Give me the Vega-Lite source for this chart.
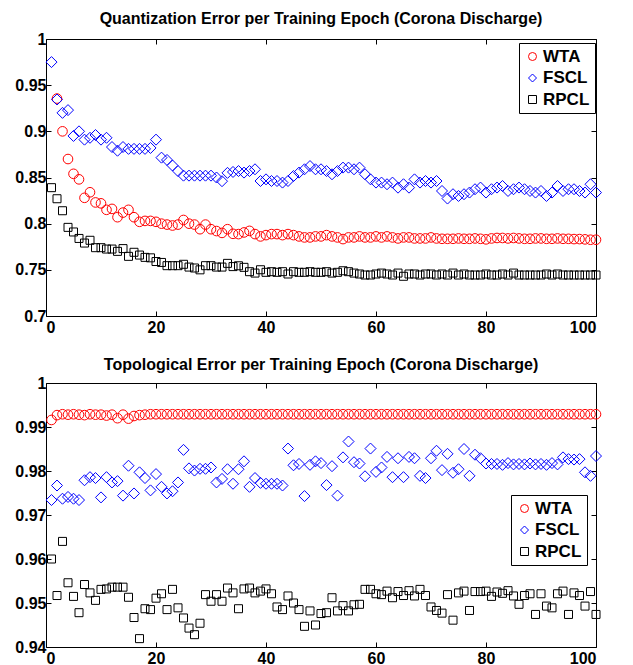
{
 "$schema": "https://vega.github.io/schema/vega-lite/v6.json",
 "autosize": {"type": "pad"},
 "padding": {"left": 14, "top": 11, "right": 10, "bottom": 5},
 "background": "white",
 "config": {
  "font": "Liberation Sans",
  "view": {"stroke": null},
  "axis": {"labelFont": "Liberation Sans", "labelFontSize": 16, "labelFontWeight": "bold", "labelColor": "black", "domainColor": "black", "tickColor": "black", "grid": false, "title": null, "tickSize": -5, "labelPadding": 5, "domainWidth": 1, "tickWidth": 1},
  "axisBottom": {"labelPadding": 8},
  "title": {"font": "Liberation Sans", "fontSize": 16, "fontWeight": "bold", "color": "black", "anchor": "middle", "offset": 4},
  "legend": {"orient": "none", "strokeColor": "black", "fillColor": "white", "padding": 5, "labelFont": "Liberation Sans", "labelFontSize": 17, "labelFontWeight": "bold", "labelColor": "black", "symbolSize": 64, "symbolStrokeWidth": 1, "labelOffset": 2, "rowPadding": 3.5, "symbolOffset": 0}
 },
 "datasets": {
  "quant": [
   {"epoch":2,"method":"WTA","value":0.9355},{"epoch":3,"method":"WTA","value":0.900},{"epoch":4,"method":"WTA","value":0.870},{"epoch":5,"method":"WTA","value":0.854},{"epoch":6,"method":"WTA","value":0.848},{"epoch":7,"method":"WTA","value":0.828},{"epoch":8,"method":"WTA","value":0.834},{"epoch":9,"method":"WTA","value":0.823},{"epoch":10,"method":"WTA","value":0.822},{"epoch":11,"method":"WTA","value":0.815},{"epoch":12,"method":"WTA","value":0.816},{"epoch":13,"method":"WTA","value":0.807},{"epoch":14,"method":"WTA","value":0.812},{"epoch":15,"method":"WTA","value":0.815},{"epoch":16,"method":"WTA","value":0.807},{"epoch":17,"method":"WTA","value":0.802},{"epoch":18,"method":"WTA","value":0.803},{"epoch":19,"method":"WTA","value":0.803},{"epoch":20,"method":"WTA","value":0.802},{"epoch":21,"method":"WTA","value":0.800},{"epoch":22,"method":"WTA","value":0.799},{"epoch":23,"method":"WTA","value":0.798},{"epoch":24,"method":"WTA","value":0.799},{"epoch":25,"method":"WTA","value":0.804},{"epoch":26,"method":"WTA","value":0.800},{"epoch":27,"method":"WTA","value":0.799},{"epoch":28,"method":"WTA","value":0.794},{"epoch":29,"method":"WTA","value":0.799},{"epoch":30,"method":"WTA","value":0.794},{"epoch":31,"method":"WTA","value":0.792},{"epoch":32,"method":"WTA","value":0.790},{"epoch":33,"method":"WTA","value":0.794},{"epoch":34,"method":"WTA","value":0.789},{"epoch":35,"method":"WTA","value":0.7887},{"epoch":36,"method":"WTA","value":0.7905},{"epoch":37,"method":"WTA","value":0.7922},{"epoch":38,"method":"WTA","value":0.7887},{"epoch":39,"method":"WTA","value":0.7862},{"epoch":40,"method":"WTA","value":0.7876},{"epoch":41,"method":"WTA","value":0.7887},{"epoch":42,"method":"WTA","value":0.7887},{"epoch":43,"method":"WTA","value":0.7876},{"epoch":44,"method":"WTA","value":0.7887},{"epoch":45,"method":"WTA","value":0.7876},{"epoch":46,"method":"WTA","value":0.7862},{"epoch":47,"method":"WTA","value":0.7851},{"epoch":48,"method":"WTA","value":0.7851},{"epoch":49,"method":"WTA","value":0.7862},{"epoch":50,"method":"WTA","value":0.7862},{"epoch":51,"method":"WTA","value":0.7876},{"epoch":52,"method":"WTA","value":0.7862},{"epoch":53,"method":"WTA","value":0.7851},{"epoch":54,"method":"WTA","value":0.7833},{"epoch":55,"method":"WTA","value":0.7851},{"epoch":56,"method":"WTA","value":0.7851},{"epoch":57,"method":"WTA","value":0.7862},{"epoch":58,"method":"WTA","value":0.7851},{"epoch":59,"method":"WTA","value":0.7851},{"epoch":60,"method":"WTA","value":0.7862},{"epoch":61,"method":"WTA","value":0.7851},{"epoch":62,"method":"WTA","value":0.7862},{"epoch":63,"method":"WTA","value":0.7851},{"epoch":64,"method":"WTA","value":0.7840},{"epoch":65,"method":"WTA","value":0.7851},{"epoch":66,"method":"WTA","value":0.7851},{"epoch":67,"method":"WTA","value":0.7840},{"epoch":68,"method":"WTA","value":0.7840},{"epoch":69,"method":"WTA","value":0.7840},{"epoch":70,"method":"WTA","value":0.7851},{"epoch":71,"method":"WTA","value":0.7840},{"epoch":72,"method":"WTA","value":0.7836},{"epoch":73,"method":"WTA","value":0.7836},{"epoch":74,"method":"WTA","value":0.7836},{"epoch":75,"method":"WTA","value":0.7840},{"epoch":76,"method":"WTA","value":0.7836},{"epoch":77,"method":"WTA","value":0.7836},{"epoch":78,"method":"WTA","value":0.7840},{"epoch":79,"method":"WTA","value":0.7836},{"epoch":80,"method":"WTA","value":0.7830},{"epoch":81,"method":"WTA","value":0.7840},{"epoch":82,"method":"WTA","value":0.7845},{"epoch":83,"method":"WTA","value":0.7845},{"epoch":84,"method":"WTA","value":0.7840},{"epoch":85,"method":"WTA","value":0.7845},{"epoch":86,"method":"WTA","value":0.7840},{"epoch":87,"method":"WTA","value":0.7836},{"epoch":88,"method":"WTA","value":0.7836},{"epoch":89,"method":"WTA","value":0.7840},{"epoch":90,"method":"WTA","value":0.7840},{"epoch":91,"method":"WTA","value":0.7836},{"epoch":92,"method":"WTA","value":0.7836},{"epoch":93,"method":"WTA","value":0.7840},{"epoch":94,"method":"WTA","value":0.7836},{"epoch":95,"method":"WTA","value":0.7836},{"epoch":96,"method":"WTA","value":0.7833},{"epoch":97,"method":"WTA","value":0.7833},{"epoch":98,"method":"WTA","value":0.7830},{"epoch":99,"method":"WTA","value":0.7826},{"epoch":100,"method":"WTA","value":0.7826},
   {"epoch":1,"method":"FSCL","value":0.975},{"epoch":2,"method":"FSCL","value":0.9345},{"epoch":3,"method":"FSCL","value":0.920},{"epoch":4,"method":"FSCL","value":0.923},{"epoch":5,"method":"FSCL","value":0.895},{"epoch":6,"method":"FSCL","value":0.900},{"epoch":7,"method":"FSCL","value":0.891},{"epoch":8,"method":"FSCL","value":0.893},{"epoch":9,"method":"FSCL","value":0.896},{"epoch":10,"method":"FSCL","value":0.891},{"epoch":11,"method":"FSCL","value":0.893},{"epoch":12,"method":"FSCL","value":0.883},{"epoch":13,"method":"FSCL","value":0.879},{"epoch":14,"method":"FSCL","value":0.883},{"epoch":15,"method":"FSCL","value":0.881},{"epoch":16,"method":"FSCL","value":0.881},{"epoch":17,"method":"FSCL","value":0.881},{"epoch":18,"method":"FSCL","value":0.881},{"epoch":19,"method":"FSCL","value":0.882},{"epoch":20,"method":"FSCL","value":0.891},{"epoch":21,"method":"FSCL","value":0.8715},{"epoch":22,"method":"FSCL","value":0.869},{"epoch":23,"method":"FSCL","value":0.863},{"epoch":24,"method":"FSCL","value":0.857},{"epoch":25,"method":"FSCL","value":0.852},{"epoch":26,"method":"FSCL","value":0.852},{"epoch":27,"method":"FSCL","value":0.852},{"epoch":28,"method":"FSCL","value":0.852},{"epoch":29,"method":"FSCL","value":0.852},{"epoch":30,"method":"FSCL","value":0.852},{"epoch":31,"method":"FSCL","value":0.850},{"epoch":32,"method":"FSCL","value":0.846},{"epoch":33,"method":"FSCL","value":0.855},{"epoch":34,"method":"FSCL","value":0.856},{"epoch":35,"method":"FSCL","value":0.857},{"epoch":36,"method":"FSCL","value":0.8553},{"epoch":37,"method":"FSCL","value":0.857},{"epoch":38,"method":"FSCL","value":0.8589},{"epoch":39,"method":"FSCL","value":0.8462},{"epoch":40,"method":"FSCL","value":0.848},{"epoch":41,"method":"FSCL","value":0.8462},{"epoch":42,"method":"FSCL","value":0.8462},{"epoch":43,"method":"FSCL","value":0.8445},{"epoch":44,"method":"FSCL","value":0.8462},{"epoch":45,"method":"FSCL","value":0.8516},{"epoch":46,"method":"FSCL","value":0.8553},{"epoch":47,"method":"FSCL","value":0.8589},{"epoch":48,"method":"FSCL","value":0.8624},{"epoch":49,"method":"FSCL","value":0.8589},{"epoch":50,"method":"FSCL","value":0.8589},{"epoch":51,"method":"FSCL","value":0.857},{"epoch":52,"method":"FSCL","value":0.8535},{"epoch":53,"method":"FSCL","value":0.857},{"epoch":54,"method":"FSCL","value":0.8607},{"epoch":55,"method":"FSCL","value":0.8607},{"epoch":56,"method":"FSCL","value":0.8589},{"epoch":57,"method":"FSCL","value":0.8607},{"epoch":58,"method":"FSCL","value":0.8535},{"epoch":59,"method":"FSCL","value":0.848},{"epoch":60,"method":"FSCL","value":0.8445},{"epoch":61,"method":"FSCL","value":0.8445},{"epoch":62,"method":"FSCL","value":0.8427},{"epoch":63,"method":"FSCL","value":0.8445},{"epoch":64,"method":"FSCL","value":0.839},{"epoch":65,"method":"FSCL","value":0.8427},{"epoch":66,"method":"FSCL","value":0.839},{"epoch":67,"method":"FSCL","value":0.848},{"epoch":68,"method":"FSCL","value":0.8445},{"epoch":69,"method":"FSCL","value":0.8462},{"epoch":70,"method":"FSCL","value":0.8445},{"epoch":71,"method":"FSCL","value":0.8462},{"epoch":72,"method":"FSCL","value":0.8354},{"epoch":73,"method":"FSCL","value":0.8272},{"epoch":74,"method":"FSCL","value":0.8319},{"epoch":75,"method":"FSCL","value":0.8300},{"epoch":76,"method":"FSCL","value":0.8319},{"epoch":77,"method":"FSCL","value":0.8337},{"epoch":78,"method":"FSCL","value":0.8373},{"epoch":79,"method":"FSCL","value":0.8391},{"epoch":80,"method":"FSCL","value":0.8337},{"epoch":81,"method":"FSCL","value":0.8373},{"epoch":82,"method":"FSCL","value":0.8391},{"epoch":83,"method":"FSCL","value":0.8408},{"epoch":84,"method":"FSCL","value":0.8354},{"epoch":85,"method":"FSCL","value":0.8373},{"epoch":86,"method":"FSCL","value":0.8391},{"epoch":87,"method":"FSCL","value":0.8373},{"epoch":88,"method":"FSCL","value":0.8354},{"epoch":89,"method":"FSCL","value":0.8337},{"epoch":90,"method":"FSCL","value":0.8354},{"epoch":91,"method":"FSCL","value":0.8300},{"epoch":92,"method":"FSCL","value":0.8337},{"epoch":93,"method":"FSCL","value":0.8408},{"epoch":94,"method":"FSCL","value":0.8354},{"epoch":95,"method":"FSCL","value":0.8373},{"epoch":96,"method":"FSCL","value":0.8373},{"epoch":97,"method":"FSCL","value":0.8354},{"epoch":98,"method":"FSCL","value":0.8337},{"epoch":99,"method":"FSCL","value":0.8427},{"epoch":100,"method":"FSCL","value":0.8337},
   {"epoch":1,"method":"RPCL","value":0.839},{"epoch":2,"method":"RPCL","value":0.827},{"epoch":3,"method":"RPCL","value":0.814},{"epoch":4,"method":"RPCL","value":0.796},{"epoch":5,"method":"RPCL","value":0.791},{"epoch":6,"method":"RPCL","value":0.784},{"epoch":7,"method":"RPCL","value":0.779},{"epoch":8,"method":"RPCL","value":0.782},{"epoch":9,"method":"RPCL","value":0.774},{"epoch":10,"method":"RPCL","value":0.774},{"epoch":11,"method":"RPCL","value":0.7725},{"epoch":12,"method":"RPCL","value":0.7725},{"epoch":13,"method":"RPCL","value":0.770},{"epoch":14,"method":"RPCL","value":0.773},{"epoch":15,"method":"RPCL","value":0.7646},{"epoch":16,"method":"RPCL","value":0.769},{"epoch":17,"method":"RPCL","value":0.766},{"epoch":18,"method":"RPCL","value":0.7635},{"epoch":19,"method":"RPCL","value":0.763},{"epoch":20,"method":"RPCL","value":0.759},{"epoch":21,"method":"RPCL","value":0.758},{"epoch":22,"method":"RPCL","value":0.7545},{"epoch":23,"method":"RPCL","value":0.7545},{"epoch":24,"method":"RPCL","value":0.7545},{"epoch":25,"method":"RPCL","value":0.756},{"epoch":26,"method":"RPCL","value":0.753},{"epoch":27,"method":"RPCL","value":0.752},{"epoch":28,"method":"RPCL","value":0.750},{"epoch":29,"method":"RPCL","value":0.7545},{"epoch":30,"method":"RPCL","value":0.7545},{"epoch":31,"method":"RPCL","value":0.753},{"epoch":32,"method":"RPCL","value":0.753},{"epoch":33,"method":"RPCL","value":0.757},{"epoch":34,"method":"RPCL","value":0.7535},{"epoch":35,"method":"RPCL","value":0.7544},{"epoch":36,"method":"RPCL","value":0.7527},{"epoch":37,"method":"RPCL","value":0.748},{"epoch":38,"method":"RPCL","value":0.7465},{"epoch":39,"method":"RPCL","value":0.7501},{"epoch":40,"method":"RPCL","value":0.7473},{"epoch":41,"method":"RPCL","value":0.748},{"epoch":42,"method":"RPCL","value":0.7473},{"epoch":43,"method":"RPCL","value":0.748},{"epoch":44,"method":"RPCL","value":0.7455},{"epoch":45,"method":"RPCL","value":0.748},{"epoch":46,"method":"RPCL","value":0.7473},{"epoch":47,"method":"RPCL","value":0.7473},{"epoch":48,"method":"RPCL","value":0.748},{"epoch":49,"method":"RPCL","value":0.7473},{"epoch":50,"method":"RPCL","value":0.7473},{"epoch":51,"method":"RPCL","value":0.748},{"epoch":52,"method":"RPCL","value":0.7465},{"epoch":53,"method":"RPCL","value":0.7473},{"epoch":54,"method":"RPCL","value":0.749},{"epoch":55,"method":"RPCL","value":0.748},{"epoch":56,"method":"RPCL","value":0.7465},{"epoch":57,"method":"RPCL","value":0.7455},{"epoch":58,"method":"RPCL","value":0.7444},{"epoch":59,"method":"RPCL","value":0.7444},{"epoch":60,"method":"RPCL","value":0.7455},{"epoch":61,"method":"RPCL","value":0.7465},{"epoch":62,"method":"RPCL","value":0.7455},{"epoch":63,"method":"RPCL","value":0.7444},{"epoch":64,"method":"RPCL","value":0.7465},{"epoch":65,"method":"RPCL","value":0.743},{"epoch":66,"method":"RPCL","value":0.7455},{"epoch":67,"method":"RPCL","value":0.7455},{"epoch":68,"method":"RPCL","value":0.7444},{"epoch":69,"method":"RPCL","value":0.7455},{"epoch":70,"method":"RPCL","value":0.7455},{"epoch":71,"method":"RPCL","value":0.7444},{"epoch":72,"method":"RPCL","value":0.7455},{"epoch":73,"method":"RPCL","value":0.7444},{"epoch":74,"method":"RPCL","value":0.7465},{"epoch":75,"method":"RPCL","value":0.7444},{"epoch":76,"method":"RPCL","value":0.7455},{"epoch":77,"method":"RPCL","value":0.7444},{"epoch":78,"method":"RPCL","value":0.7444},{"epoch":79,"method":"RPCL","value":0.7444},{"epoch":80,"method":"RPCL","value":0.7455},{"epoch":81,"method":"RPCL","value":0.7444},{"epoch":82,"method":"RPCL","value":0.7444},{"epoch":83,"method":"RPCL","value":0.7455},{"epoch":84,"method":"RPCL","value":0.7444},{"epoch":85,"method":"RPCL","value":0.7465},{"epoch":86,"method":"RPCL","value":0.7444},{"epoch":87,"method":"RPCL","value":0.7444},{"epoch":88,"method":"RPCL","value":0.7444},{"epoch":89,"method":"RPCL","value":0.7444},{"epoch":90,"method":"RPCL","value":0.7444},{"epoch":91,"method":"RPCL","value":0.7455},{"epoch":92,"method":"RPCL","value":0.7444},{"epoch":93,"method":"RPCL","value":0.7455},{"epoch":94,"method":"RPCL","value":0.7444},{"epoch":95,"method":"RPCL","value":0.7444},{"epoch":96,"method":"RPCL","value":0.7444},{"epoch":97,"method":"RPCL","value":0.7444},{"epoch":98,"method":"RPCL","value":0.7444},{"epoch":99,"method":"RPCL","value":0.7444},{"epoch":100,"method":"RPCL","value":0.7444}
  ],
  "topo": [
   {"epoch":1,"method":"WTA","value":0.9916},{"epoch":2,"method":"WTA","value":0.9927},{"epoch":3,"method":"WTA","value":0.9929},{"epoch":4,"method":"WTA","value":0.9928},{"epoch":5,"method":"WTA","value":0.9929},{"epoch":6,"method":"WTA","value":0.9928},{"epoch":7,"method":"WTA","value":0.9927},{"epoch":8,"method":"WTA","value":0.9929},{"epoch":9,"method":"WTA","value":0.9928},{"epoch":10,"method":"WTA","value":0.9928},{"epoch":11,"method":"WTA","value":0.9926},{"epoch":12,"method":"WTA","value":0.9928},{"epoch":13,"method":"WTA","value":0.9920},{"epoch":14,"method":"WTA","value":0.9928},{"epoch":15,"method":"WTA","value":0.9919},{"epoch":16,"method":"WTA","value":0.9925},{"epoch":17,"method":"WTA","value":0.9927},{"epoch":18,"method":"WTA","value":0.9928},{"epoch":19,"method":"WTA","value":0.9929},{"epoch":20,"method":"WTA","value":0.9929},{"epoch":21,"method":"WTA","value":0.9929},{"epoch":22,"method":"WTA","value":0.9929},{"epoch":23,"method":"WTA","value":0.9929},{"epoch":24,"method":"WTA","value":0.9929},{"epoch":25,"method":"WTA","value":0.9929},{"epoch":26,"method":"WTA","value":0.9929},{"epoch":27,"method":"WTA","value":0.9929},{"epoch":28,"method":"WTA","value":0.9929},{"epoch":29,"method":"WTA","value":0.9929},{"epoch":30,"method":"WTA","value":0.9929},{"epoch":31,"method":"WTA","value":0.9929},{"epoch":32,"method":"WTA","value":0.9929},{"epoch":33,"method":"WTA","value":0.9929},{"epoch":34,"method":"WTA","value":0.9929},{"epoch":35,"method":"WTA","value":0.9929},{"epoch":36,"method":"WTA","value":0.9929},{"epoch":37,"method":"WTA","value":0.9929},{"epoch":38,"method":"WTA","value":0.9929},{"epoch":39,"method":"WTA","value":0.9929},{"epoch":40,"method":"WTA","value":0.9929},{"epoch":41,"method":"WTA","value":0.9929},{"epoch":42,"method":"WTA","value":0.9929},{"epoch":43,"method":"WTA","value":0.9929},{"epoch":44,"method":"WTA","value":0.9929},{"epoch":45,"method":"WTA","value":0.9929},{"epoch":46,"method":"WTA","value":0.9929},{"epoch":47,"method":"WTA","value":0.9929},{"epoch":48,"method":"WTA","value":0.9929},{"epoch":49,"method":"WTA","value":0.9929},{"epoch":50,"method":"WTA","value":0.9929},{"epoch":51,"method":"WTA","value":0.9929},{"epoch":52,"method":"WTA","value":0.9929},{"epoch":53,"method":"WTA","value":0.9929},{"epoch":54,"method":"WTA","value":0.9929},{"epoch":55,"method":"WTA","value":0.9929},{"epoch":56,"method":"WTA","value":0.9929},{"epoch":57,"method":"WTA","value":0.9929},{"epoch":58,"method":"WTA","value":0.9929},{"epoch":59,"method":"WTA","value":0.9929},{"epoch":60,"method":"WTA","value":0.9929},{"epoch":61,"method":"WTA","value":0.9929},{"epoch":62,"method":"WTA","value":0.9929},{"epoch":63,"method":"WTA","value":0.9929},{"epoch":64,"method":"WTA","value":0.9929},{"epoch":65,"method":"WTA","value":0.9929},{"epoch":66,"method":"WTA","value":0.9929},{"epoch":67,"method":"WTA","value":0.9929},{"epoch":68,"method":"WTA","value":0.9929},{"epoch":69,"method":"WTA","value":0.9929},{"epoch":70,"method":"WTA","value":0.9929},{"epoch":71,"method":"WTA","value":0.9929},{"epoch":72,"method":"WTA","value":0.9929},{"epoch":73,"method":"WTA","value":0.9929},{"epoch":74,"method":"WTA","value":0.9929},{"epoch":75,"method":"WTA","value":0.9929},{"epoch":76,"method":"WTA","value":0.9929},{"epoch":77,"method":"WTA","value":0.9929},{"epoch":78,"method":"WTA","value":0.9929},{"epoch":79,"method":"WTA","value":0.9929},{"epoch":80,"method":"WTA","value":0.9929},{"epoch":81,"method":"WTA","value":0.9929},{"epoch":82,"method":"WTA","value":0.9929},{"epoch":83,"method":"WTA","value":0.9929},{"epoch":84,"method":"WTA","value":0.9929},{"epoch":85,"method":"WTA","value":0.9929},{"epoch":86,"method":"WTA","value":0.9929},{"epoch":87,"method":"WTA","value":0.9929},{"epoch":88,"method":"WTA","value":0.9929},{"epoch":89,"method":"WTA","value":0.9929},{"epoch":90,"method":"WTA","value":0.9929},{"epoch":91,"method":"WTA","value":0.9929},{"epoch":92,"method":"WTA","value":0.9929},{"epoch":93,"method":"WTA","value":0.9929},{"epoch":94,"method":"WTA","value":0.9929},{"epoch":95,"method":"WTA","value":0.9929},{"epoch":96,"method":"WTA","value":0.9929},{"epoch":97,"method":"WTA","value":0.9929},{"epoch":98,"method":"WTA","value":0.9929},{"epoch":99,"method":"WTA","value":0.9929},{"epoch":100,"method":"WTA","value":0.9929},
   {"epoch":1,"method":"FSCL","value":0.9734},{"epoch":2,"method":"FSCL","value":0.9767},{"epoch":3,"method":"FSCL","value":0.9737},{"epoch":4,"method":"FSCL","value":0.9741},{"epoch":5,"method":"FSCL","value":0.9737},{"epoch":6,"method":"FSCL","value":0.9734},{"epoch":7,"method":"FSCL","value":0.9779},{"epoch":8,"method":"FSCL","value":0.9786},{"epoch":9,"method":"FSCL","value":0.9784},{"epoch":10,"method":"FSCL","value":0.9740},{"epoch":11,"method":"FSCL","value":0.9786},{"epoch":12,"method":"FSCL","value":0.9774},{"epoch":13,"method":"FSCL","value":0.9777},{"epoch":14,"method":"FSCL","value":0.9744},{"epoch":15,"method":"FSCL","value":0.9812},{"epoch":16,"method":"FSCL","value":0.9749},{"epoch":17,"method":"FSCL","value":0.9797},{"epoch":18,"method":"FSCL","value":0.9784},{"epoch":19,"method":"FSCL","value":0.9756},{"epoch":20,"method":"FSCL","value":0.9793},{"epoch":21,"method":"FSCL","value":0.9764},{"epoch":22,"method":"FSCL","value":0.9749},{"epoch":23,"method":"FSCL","value":0.9754},{"epoch":24,"method":"FSCL","value":0.9774},{"epoch":25,"method":"FSCL","value":0.9848},{"epoch":26,"method":"FSCL","value":0.9806},{"epoch":27,"method":"FSCL","value":0.9801},{"epoch":28,"method":"FSCL","value":0.9805},{"epoch":29,"method":"FSCL","value":0.9805},{"epoch":30,"method":"FSCL","value":0.9808},{"epoch":31,"method":"FSCL","value":0.9774},{"epoch":32,"method":"FSCL","value":0.9782},{"epoch":33,"method":"FSCL","value":0.9804},{"epoch":34,"method":"FSCL","value":0.9771},{"epoch":35,"method":"FSCL","value":0.9804},{"epoch":36,"method":"FSCL","value":0.9822},{"epoch":37,"method":"FSCL","value":0.9764},{"epoch":38,"method":"FSCL","value":0.9784},{"epoch":39,"method":"FSCL","value":0.9773},{"epoch":40,"method":"FSCL","value":0.9771},{"epoch":41,"method":"FSCL","value":0.9771},{"epoch":42,"method":"FSCL","value":0.9771},{"epoch":43,"method":"FSCL","value":0.9767},{"epoch":44,"method":"FSCL","value":0.9851},{"epoch":45,"method":"FSCL","value":0.9813},{"epoch":46,"method":"FSCL","value":0.9816},{"epoch":47,"method":"FSCL","value":0.9743},{"epoch":48,"method":"FSCL","value":0.9814},{"epoch":49,"method":"FSCL","value":0.9822},{"epoch":50,"method":"FSCL","value":0.9818},{"epoch":51,"method":"FSCL","value":0.9768},{"epoch":52,"method":"FSCL","value":0.9811},{"epoch":53,"method":"FSCL","value":0.9744},{"epoch":54,"method":"FSCL","value":0.9831},{"epoch":55,"method":"FSCL","value":0.9867},{"epoch":56,"method":"FSCL","value":0.9820},{"epoch":57,"method":"FSCL","value":0.9817},{"epoch":58,"method":"FSCL","value":0.9788},{"epoch":59,"method":"FSCL","value":0.9851},{"epoch":60,"method":"FSCL","value":0.9798},{"epoch":61,"method":"FSCL","value":0.9808},{"epoch":62,"method":"FSCL","value":0.9832},{"epoch":63,"method":"FSCL","value":0.9786},{"epoch":64,"method":"FSCL","value":0.9829},{"epoch":65,"method":"FSCL","value":0.9786},{"epoch":66,"method":"FSCL","value":0.9832},{"epoch":67,"method":"FSCL","value":0.9829},{"epoch":68,"method":"FSCL","value":0.9789},{"epoch":69,"method":"FSCL","value":0.9784},{"epoch":70,"method":"FSCL","value":0.9829},{"epoch":71,"method":"FSCL","value":0.9846},{"epoch":72,"method":"FSCL","value":0.9802},{"epoch":73,"method":"FSCL","value":0.9839},{"epoch":74,"method":"FSCL","value":0.9796},{"epoch":75,"method":"FSCL","value":0.9804},{"epoch":76,"method":"FSCL","value":0.9850},{"epoch":77,"method":"FSCL","value":0.9789},{"epoch":78,"method":"FSCL","value":0.9837},{"epoch":79,"method":"FSCL","value":0.9829},{"epoch":80,"method":"FSCL","value":0.9817},{"epoch":81,"method":"FSCL","value":0.9816},{"epoch":82,"method":"FSCL","value":0.9816},{"epoch":83,"method":"FSCL","value":0.9814},{"epoch":84,"method":"FSCL","value":0.9818},{"epoch":85,"method":"FSCL","value":0.9815},{"epoch":86,"method":"FSCL","value":0.9816},{"epoch":87,"method":"FSCL","value":0.9815},{"epoch":88,"method":"FSCL","value":0.9817},{"epoch":89,"method":"FSCL","value":0.9815},{"epoch":90,"method":"FSCL","value":0.9816},{"epoch":91,"method":"FSCL","value":0.9814},{"epoch":92,"method":"FSCL","value":0.9818},{"epoch":93,"method":"FSCL","value":0.9815},{"epoch":94,"method":"FSCL","value":0.9831},{"epoch":95,"method":"FSCL","value":0.9827},{"epoch":96,"method":"FSCL","value":0.9826},{"epoch":97,"method":"FSCL","value":0.9827},{"epoch":98,"method":"FSCL","value":0.9797},{"epoch":99,"method":"FSCL","value":0.9789},{"epoch":100,"method":"FSCL","value":0.9834},
   {"epoch":1,"method":"RPCL","value":0.9600},{"epoch":2,"method":"RPCL","value":0.9517},{"epoch":3,"method":"RPCL","value":0.9640},{"epoch":4,"method":"RPCL","value":0.9546},{"epoch":5,"method":"RPCL","value":0.9515},{"epoch":6,"method":"RPCL","value":0.9478},{"epoch":7,"method":"RPCL","value":0.9542},{"epoch":8,"method":"RPCL","value":0.9523},{"epoch":9,"method":"RPCL","value":0.9506},{"epoch":10,"method":"RPCL","value":0.9531},{"epoch":11,"method":"RPCL","value":0.9532},{"epoch":12,"method":"RPCL","value":0.9536},{"epoch":13,"method":"RPCL","value":0.9536},{"epoch":14,"method":"RPCL","value":0.9536},{"epoch":15,"method":"RPCL","value":0.9513},{"epoch":16,"method":"RPCL","value":0.9467},{"epoch":17,"method":"RPCL","value":0.9419},{"epoch":18,"method":"RPCL","value":0.9487},{"epoch":19,"method":"RPCL","value":0.9485},{"epoch":20,"method":"RPCL","value":0.9511},{"epoch":21,"method":"RPCL","value":0.9521},{"epoch":22,"method":"RPCL","value":0.9485},{"epoch":23,"method":"RPCL","value":0.9531},{"epoch":24,"method":"RPCL","value":0.9489},{"epoch":25,"method":"RPCL","value":0.9466},{"epoch":26,"method":"RPCL","value":0.9443},{"epoch":27,"method":"RPCL","value":0.9428},{"epoch":28,"method":"RPCL","value":0.9454},{"epoch":29,"method":"RPCL","value":0.9519},{"epoch":30,"method":"RPCL","value":0.9504},{"epoch":31,"method":"RPCL","value":0.9519},{"epoch":32,"method":"RPCL","value":0.9504},{"epoch":33,"method":"RPCL","value":0.9534},{"epoch":34,"method":"RPCL","value":0.9523},{"epoch":35,"method":"RPCL","value":0.9487},{"epoch":36,"method":"RPCL","value":0.9532},{"epoch":37,"method":"RPCL","value":0.9534},{"epoch":38,"method":"RPCL","value":0.9523},{"epoch":39,"method":"RPCL","value":0.9527},{"epoch":40,"method":"RPCL","value":0.9532},{"epoch":41,"method":"RPCL","value":0.9521},{"epoch":42,"method":"RPCL","value":0.9491},{"epoch":43,"method":"RPCL","value":0.9485},{"epoch":44,"method":"RPCL","value":0.9516},{"epoch":45,"method":"RPCL","value":0.9500},{"epoch":46,"method":"RPCL","value":0.9485},{"epoch":47,"method":"RPCL","value":0.9447},{"epoch":48,"method":"RPCL","value":0.9482},{"epoch":49,"method":"RPCL","value":0.9450},{"epoch":50,"method":"RPCL","value":0.9476},{"epoch":51,"method":"RPCL","value":0.9478},{"epoch":52,"method":"RPCL","value":0.9512},{"epoch":53,"method":"RPCL","value":0.9482},{"epoch":54,"method":"RPCL","value":0.9494},{"epoch":55,"method":"RPCL","value":0.9482},{"epoch":56,"method":"RPCL","value":0.9496},{"epoch":57,"method":"RPCL","value":0.9497},{"epoch":58,"method":"RPCL","value":0.9531},{"epoch":59,"method":"RPCL","value":0.9531},{"epoch":60,"method":"RPCL","value":0.9521},{"epoch":61,"method":"RPCL","value":0.9519},{"epoch":62,"method":"RPCL","value":0.9527},{"epoch":63,"method":"RPCL","value":0.9512},{"epoch":64,"method":"RPCL","value":0.9526},{"epoch":65,"method":"RPCL","value":0.9517},{"epoch":66,"method":"RPCL","value":0.9528},{"epoch":67,"method":"RPCL","value":0.9516},{"epoch":68,"method":"RPCL","value":0.9531},{"epoch":69,"method":"RPCL","value":0.9517},{"epoch":70,"method":"RPCL","value":0.9491},{"epoch":71,"method":"RPCL","value":0.9483},{"epoch":72,"method":"RPCL","value":0.9477},{"epoch":73,"method":"RPCL","value":0.9519},{"epoch":74,"method":"RPCL","value":0.9461},{"epoch":75,"method":"RPCL","value":0.9523},{"epoch":76,"method":"RPCL","value":0.9527},{"epoch":77,"method":"RPCL","value":0.9483},{"epoch":78,"method":"RPCL","value":0.9526},{"epoch":79,"method":"RPCL","value":0.9526},{"epoch":80,"method":"RPCL","value":0.9527},{"epoch":81,"method":"RPCL","value":0.9515},{"epoch":82,"method":"RPCL","value":0.9525},{"epoch":83,"method":"RPCL","value":0.9522},{"epoch":84,"method":"RPCL","value":0.9528},{"epoch":85,"method":"RPCL","value":0.9516},{"epoch":86,"method":"RPCL","value":0.9497},{"epoch":87,"method":"RPCL","value":0.9517},{"epoch":88,"method":"RPCL","value":0.9521},{"epoch":89,"method":"RPCL","value":0.9474},{"epoch":90,"method":"RPCL","value":0.9521},{"epoch":91,"method":"RPCL","value":0.9493},{"epoch":92,"method":"RPCL","value":0.9489},{"epoch":93,"method":"RPCL","value":0.9521},{"epoch":94,"method":"RPCL","value":0.9527},{"epoch":95,"method":"RPCL","value":0.9474},{"epoch":96,"method":"RPCL","value":0.9523},{"epoch":97,"method":"RPCL","value":0.9517},{"epoch":98,"method":"RPCL","value":0.9493},{"epoch":99,"method":"RPCL","value":0.9526},{"epoch":100,"method":"RPCL","value":0.9474}
  ]
 },
 "bounds": "flush",
 "spacing": 67,
 "resolve": {"legend": {"color": "independent", "shape": "independent"}, "scale": {"color": "independent", "shape": "independent", "size": "independent"}},
 "vconcat": [
  {
   "title": {"text": "Quantization Error per Training Epoch (Corona Discharge)"},
   "width": 550, "height": 277,
   "data": {"name": "quant"},
   "layer": [
    {
     "mark": {"type": "point", "filled": false, "strokeWidth": 1, "opacity": 1},
     "encoding": {
      "x": {"field": "epoch", "type": "quantitative", "scale": {"domain": [0, 100], "nice": false, "zero": false}, "axis": {"orient": "bottom", "values": [0, 20, 40, 60, 80, 100]}},
      "y": {"field": "value", "type": "quantitative", "scale": {"domain": [0.7, 1], "nice": false, "zero": false}, "axis": {"orient": "left", "values": [0.7, 0.75, 0.8, 0.85, 0.9, 0.95, 1], "format": ".2~f"}},
      "color": {"field": "method", "type": "nominal", "scale": {"domain": ["WTA", "FSCL", "RPCL"], "range": ["#ff0000", "#0000ff", "#000000"]}, "legend": {"title": null, "legendX": 473, "legendY": 4}},
      "shape": {"field": "method", "type": "nominal", "scale": {"domain": ["WTA", "FSCL", "RPCL"], "range": ["circle", "diamond", "square"]}, "legend": {"title": null, "legendX": 473, "legendY": 4}},
      "size": {"field": "method", "type": "nominal", "scale": {"domain": ["RPCL", "WTA", "FSCL"], "range": [64, 121]}, "legend": null}
     }
    },
    {
     "mark": {"type": "point", "opacity": 0},
     "encoding": {
      "x": {"field": "epoch", "type": "quantitative", "axis": {"orient": "top", "labels": false, "values": [0, 20, 40, 60, 80, 100]}},
      "y": {"field": "value", "type": "quantitative", "axis": {"orient": "right", "labels": false, "values": [0.7, 0.75, 0.8, 0.85, 0.9, 0.95, 1]}}
     }
    }
   ],
   "resolve": {"axis": {"x": "independent", "y": "independent"}}
  },
  {
   "title": {"text": "Topological Error per Training Epoch (Corona Discharge)", "offset": 2},
   "width": 550, "height": 264,
   "data": {"name": "topo"},
   "layer": [
    {
     "mark": {"type": "point", "filled": false, "strokeWidth": 1, "opacity": 1},
     "encoding": {
      "x": {"field": "epoch", "type": "quantitative", "scale": {"domain": [0, 100], "nice": false, "zero": false}, "axis": {"orient": "bottom", "values": [0, 20, 40, 60, 80, 100]}},
      "y": {"field": "value", "type": "quantitative", "scale": {"domain": [0.94, 1], "nice": false, "zero": false}, "axis": {"orient": "left", "values": [0.94, 0.95, 0.96, 0.97, 0.98, 0.99, 1], "format": ".2~f"}},
      "color": {"field": "method", "type": "nominal", "scale": {"domain": ["WTA", "FSCL", "RPCL"], "range": ["#ff0000", "#0000ff", "#000000"]}, "legend": {"title": null, "legendX": 465, "legendY": 112}},
      "shape": {"field": "method", "type": "nominal", "scale": {"domain": ["WTA", "FSCL", "RPCL"], "range": ["circle", "diamond", "square"]}, "legend": {"title": null, "legendX": 465, "legendY": 112}},
      "size": {"field": "method", "type": "nominal", "scale": {"domain": ["RPCL", "WTA", "FSCL"], "range": [64, 121]}, "legend": null}
     }
    },
    {
     "mark": {"type": "point", "opacity": 0},
     "encoding": {
      "x": {"field": "epoch", "type": "quantitative", "axis": {"orient": "top", "labels": false, "values": [0, 20, 40, 60, 80, 100]}},
      "y": {"field": "value", "type": "quantitative", "axis": {"orient": "right", "labels": false, "values": [0.94, 0.95, 0.96, 0.97, 0.98, 0.99, 1]}}
     }
    }
   ],
   "resolve": {"axis": {"x": "independent", "y": "independent"}}
  }
 ]
}
